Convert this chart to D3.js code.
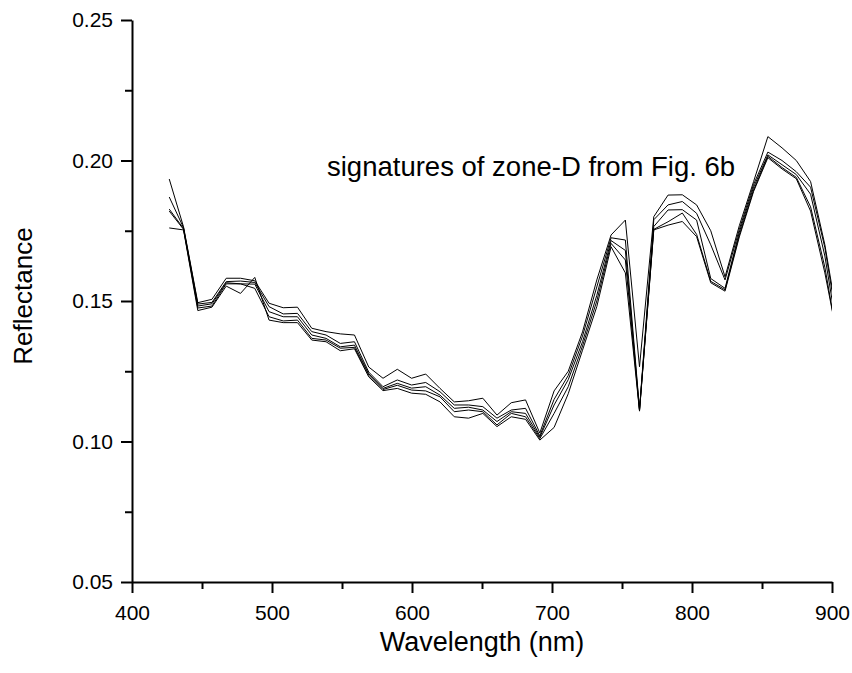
<!DOCTYPE html>
<html>
<head>
<meta charset="utf-8">
<script src="https://cdn.jsdelivr.net/npm/d3@7"></script>
<style>
  body { margin: 0; background: #fff; }
  text { font-family: "Liberation Sans", Arial, sans-serif; fill: #000; }
</style>
</head>
<body>
<div id="chart"></div>
<script>
// band centres (nm)
var wavelengths = [426.6, 436.8, 447.0, 457.1, 467.3, 477.5, 487.7, 497.9, 508.0, 518.2,
                   528.4, 538.6, 548.8, 558.9, 569.1, 579.3, 589.5, 599.7, 609.8, 620.0,
                   630.2, 640.4, 650.6, 660.7, 670.9, 681.1, 691.3, 701.5, 711.6, 721.8,
                   732.0, 742.2, 752.4, 762.5, 772.7, 782.9, 793.1, 803.3, 813.4, 823.6,
                   833.8, 844.0, 854.2, 864.3, 874.5, 884.7, 894.9, 905.1];

// five reflectance signatures
var sig1 = [.1934, .1764, .1494, .1506, .1581, .1581, .1572, .1492, .1476, .1478,
            .1403, .1391, .1383, .1379, .1265, .1225, .1257, .1225, .1240, .1189,
            .1141, .1145, .1154, .1094, .1138, .1148, .1030, .1180, .1250, .1390,
            .1575, .1735, .1788, .1266, .1800, .1877, .1878, .1842, .1750, .1586,
            .1768, .1925, .2085, .2045, .2000, .1925, .1700, .1400];
var sig2 = [.1870, .1761, .1489, .1495, .1569, .1571, .1566, .1480, .1454, .1456,
            .1391, .1379, .1349, .1355, .1247, .1195, .1219, .1201, .1210, .1177,
            .1130, .1130, .1124, .1083, .1112, .1118, .1020, .1150, .1235, .1375,
            .1550, .1725, .1717, .1115, .1789, .1842, .1854, .1812, .1700, .1575,
            .1755, .1915, .2030, .2000, .1960, .1905, .1690, .1380];
var sig3 = [.1827, .1758, .1482, .1490, .1565, .1561, .1560, .1462, .1444, .1444,
            .1379, .1367, .1337, .1343, .1241, .1189, .1207, .1190, .1195, .1165,
            .1118, .1122, .1112, .1071, .1106, .1100, .1015, .1130, .1220, .1355,
            .1520, .1715, .1680, .1112, .1765, .1824, .1825, .1788, .1580, .1545,
            .1745, .1905, .2020, .1985, .1950, .1880, .1660, .1350];
var sig4 = [.1820, .1755, .1475, .1482, .1561, .1561, .1545, .1444, .1429, .1432,
            .1367, .1361, .1332, .1335, .1236, .1185, .1200, .1183, .1180, .1159,
            .1106, .1112, .1106, .1059, .1100, .1088, .1010, .1100, .1195, .1340,
            .1500, .1705, .1646, .1110, .1755, .1782, .1813, .1737, .1570, .1540,
            .1735, .1895, .2015, .1975, .1940, .1835, .1620, .1330];
var sig5 = [.1760, .1753, .1466, .1478, .1553, .1527, .1584, .1432, .1423, .1423,
            .1361, .1355, .1323, .1330, .1230, .1181, .1189, .1172, .1168, .1141,
            .1088, .1083, .1100, .1053, .1088, .1079, .1005, .1050, .1170, .1325,
            .1480, .1693, .1600, .1108, .1753, .1770, .1783, .1729, .1565, .1535,
            .1728, .1890, .2010, .1970, .1935, .1820, .1600, .1340];

var xTicks = [400, 500, 600, 700, 800, 900];
var xMinorTicks = [450, 550, 650, 750, 850];
var yTicks = [0.05, 0.10, 0.15, 0.20, 0.25];
var yMinorTicks = [0.075, 0.125, 0.175, 0.225];

var xTitle = "Wavelength (nm)";
var yTitle = "Reflectance";
var note = "signatures of zone-D from Fig. 6b";

var w = 852;
var h = 673;
var plotLeft = 132, plotRight = 832, plotTop = 20, plotBottom = 582;

var svg = d3.select("#chart")
    .append("svg")
    .attr("width", w)
    .attr("height", h);

svg.append("rect")
    .attr("width", w)
    .attr("height", h)
    .attr("fill", "#fff");

var xscale = d3.scaleLinear()
    .domain([400, 900])
    .range([plotLeft, plotRight]);

var yscale = d3.scaleLinear()
    .domain([0.05, 0.25])
    .range([plotBottom, plotTop]);

// clip the lines at the 900 nm edge
svg.append("clipPath")
    .attr("id", "plotclip")
    .append("rect")
    .attr("x", plotLeft)
    .attr("y", plotTop)
    .attr("width", plotRight - plotLeft)
    .attr("height", plotBottom - plotTop);

var line = d3.line()
    .x(function(d) { return xscale(d[0]); })
    .y(function(d) { return yscale(d[1]); });

var series = [sig1, sig2, sig3, sig4, sig5];

svg.append("g")
    .attr("clip-path", "url(#plotclip)")
    .selectAll("path")
    .data(series)
    .enter().append("path")
    .attr("d", function(s) {
        return line(s.map(function(v, i) { return [wavelengths[i], v]; }));
    })
    .attr("fill", "none")
    .attr("stroke", "#000")
    .attr("stroke-width", 1)
    .attr("stroke-linejoin", "miter");

// minor ticks first, then the major axes over them
svg.append("g")
    .attr("transform", "translate(0," + plotBottom + ")")
    .call(d3.axisBottom(xscale).tickValues(xMinorTicks).tickSize(7).tickSizeOuter(0).tickFormat(""))
    .call(function(g) { g.select(".domain").remove(); });

svg.append("g")
    .attr("transform", "translate(" + plotLeft + ",0)")
    .call(d3.axisLeft(yscale).tickValues(yMinorTicks).tickSize(7).tickSizeOuter(0).tickFormat(""))
    .call(function(g) { g.select(".domain").remove(); });

var xaxis = svg.append("g")
    .attr("transform", "translate(0," + plotBottom + ")")
    .call(d3.axisBottom(xscale).tickValues(xTicks).tickSize(11).tickSizeOuter(0).tickPadding(12).tickFormat(d3.format("d")));

var yaxis = svg.append("g")
    .attr("transform", "translate(" + plotLeft + ",0)")
    .call(d3.axisLeft(yscale).tickValues(yTicks).tickSize(11).tickSizeOuter(0).tickPadding(8).tickFormat(d3.format(".2f")));

svg.selectAll(".domain, .tick line")
    .attr("stroke", "#000")
    .attr("stroke-width", 2);

svg.selectAll(".tick text")
    .style("font-family", "'Liberation Sans', Arial, sans-serif")
    .style("font-size", "21px")
    .attr("fill", "#000");

svg.append("text")
    .attr("x", (plotLeft + plotRight) / 2)
    .attr("y", 651)
    .style("text-anchor", "middle")
    .style("font-size", "27px")
    .text(xTitle);

svg.append("text")
    .attr("transform", "translate(32,296) rotate(-90)")
    .style("text-anchor", "middle")
    .style("font-size", "26px")
    .text(yTitle);

svg.append("text")
    .attr("x", 327)
    .attr("y", 176)
    .style("font-size", "27.5px")
    .text(note);
</script>
</body>
</html>
